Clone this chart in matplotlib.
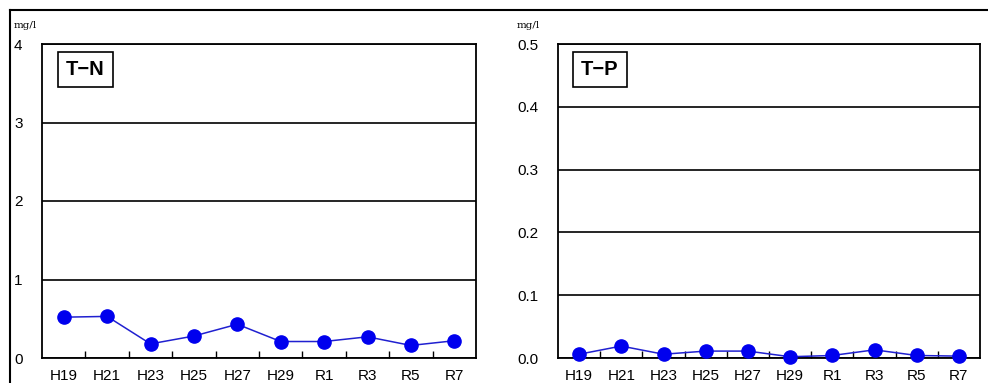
import numpy as np
import matplotlib
matplotlib.use('Agg')
import matplotlib.pyplot as plt
from matplotlib.lines import Line2D

plt.rcParams['font.family'] = ['Liberation Sans', 'DejaVu Sans']

years = ['H19', 'H21', 'H23', 'H25', 'H27', 'H29', 'R1', 'R3', 'R5', 'R7']
tn = [0.52, 0.53, 0.18, 0.28, 0.43, 0.21, 0.21, 0.27, 0.16, 0.22]
tp = [0.006, 0.019, 0.006, 0.011, 0.011, 0.002, 0.004, 0.013, 0.004, 0.003]

W, H = 988, 383
fig = plt.figure(figsize=(W / 100, H / 100), dpi=100)

# outer frame (top and left edges visible)
fig.add_artist(Line2D([10 / W, 1], [1 - 10 / H, 1 - 10 / H], color='black', lw=1.5))
fig.add_artist(Line2D([10 / W, 10 / W], [0, 1 - 10 / H], color='black', lw=1.5))

panels = [
    (42, 476, tn, 4, [0, 1, 2, 3, 4], ['0', '1', '2', '3', '4'], 'T\u2212N', 14),
    (558, 980, tp, 0.5, [0, 0.1, 0.2, 0.3, 0.4, 0.5],
     ['0.0', '0.1', '0.2', '0.3', '0.4', '0.5'], 'T\u2212P', 517),
]

top, bot = 44, 358
for x0, x1, vals, ymax, yt, ytl, name, unit_x in panels:
    ax = fig.add_axes([x0 / W, 1 - bot / H, (x1 - x0) / W, (bot - top) / H])
    x = np.arange(len(years))
    ax.plot(x, vals, color='#2020d0', lw=1.1, marker='o', ms=9.5,
            mfc='#0000ee', mec='#0000ee', clip_on=False, zorder=5)
    ax.set_xlim(-0.5, len(years) - 0.5)
    ax.set_ylim(0, ymax)
    ax.set_yticks(yt)
    ax.set_yticklabels(ytl)
    ax.tick_params(axis='y', length=0, pad=14, labelsize=11)
    ax.set_xticks(x)
    ax.set_xticklabels(years)
    ax.tick_params(axis='x', which='major', length=0, pad=8, labelsize=11)
    ax.set_xticks(np.arange(0.5, len(years) - 0.5, 1), minor=True)
    ax.tick_params(axis='x', which='minor', direction='in', length=5, width=1)
    ax.grid(axis='y', color='black', lw=1.2)
    for s in ax.spines.values():
        s.set_linewidth(1.3)
    ax.text(0.055, 0.95, name, transform=ax.transAxes, ha='left', va='top',
            fontsize=14.5, fontweight='bold',
            bbox=dict(boxstyle='square,pad=0.4', fc='white', ec='black', lw=1.2))
    fig.text(unit_x / W, 1 - 25 / H, 'mg/l', fontsize=7.5, family='DejaVu Serif',
             ha='left', va='center')

fig.savefig('out.png', dpi=100)
